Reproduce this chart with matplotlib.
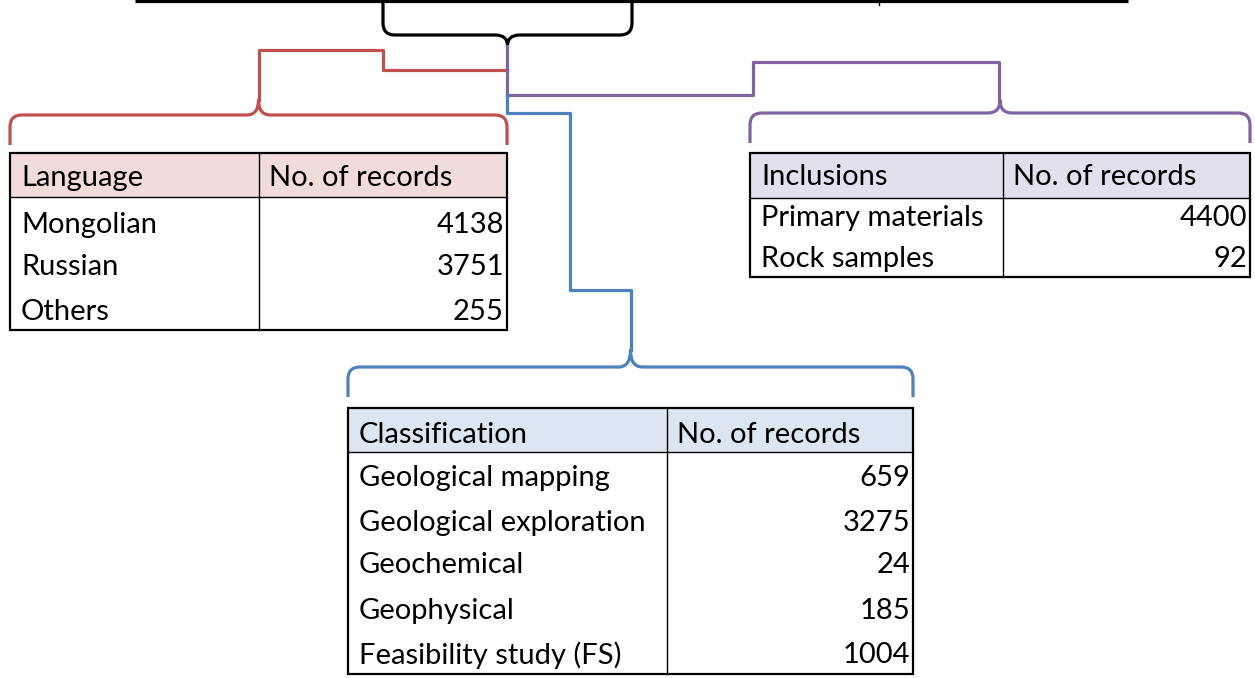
import matplotlib
matplotlib.use('Agg')
import matplotlib.pyplot as plt
from matplotlib.path import Path
from matplotlib.patches import PathPatch, Rectangle

# table contents
lang_labels = ['Mongolian', 'Russian', 'Others']
lang_counts = [4138, 3751, 255]

incl_labels = ['Primary materials', 'Rock samples']
incl_counts = [4400, 92]

class_labels = ['Geological mapping', 'Geological exploration', 'Geochemical',
                'Geophysical', 'Feasibility study (FS)']
class_counts = [659, 3275, 24, 185, 1004]

RED = '#C0504D'
PURPLE = '#8064A2'
BLUE = '#4F81BD'
FONT = 'Lato'
FS = 21

fig = plt.figure(figsize=(12.55, 6.78), dpi=100)
ax = fig.add_axes([0, 0, 1, 1])
ax.set_xlim(0, 1255)
ax.set_ylim(678, 0)
ax.axis('off')


def brace(x0, x1, y_end, y_bar, y_tip, color, r=12):
    """Horizontal curly brace; ends at y_end, bar at y_bar, centre point at y_tip."""
    xc = (x0 + x1) / 2
    s = 1 if y_end < y_bar else -1  # direction from end to bar
    verts = [(x0, y_end), (x0, y_bar - s * r), (x0, y_bar), (x0 + r, y_bar),
             (xc - r, y_bar), (xc, y_bar), (xc, y_tip),
             (xc, y_bar), (xc + r, y_bar),
             (x1 - r, y_bar), (x1, y_bar), (x1, y_bar - s * r), (x1, y_end)]
    codes = [Path.MOVETO, Path.LINETO, Path.CURVE3, Path.CURVE3,
             Path.LINETO, Path.CURVE3, Path.CURVE3,
             Path.CURVE3, Path.CURVE3,
             Path.LINETO, Path.CURVE3, Path.CURVE3, Path.LINETO]
    ax.add_patch(PathPatch(Path(verts, codes), fill=False, edgecolor=color,
                           lw=2.3, capstyle='butt', joinstyle='round'))


def draw_table(x0, x1, xsplit, y_top, y_head, y_bot, head, labels, counts, rows_y,
               fill, head_y):
    ax.add_patch(Rectangle((x0, y_top), x1 - x0, y_head - y_top, facecolor=fill,
                           edgecolor='none'))
    ax.add_patch(Rectangle((x0, y_top), x1 - x0, y_bot - y_top, fill=False,
                           edgecolor='black', lw=1.6))
    ax.plot([x0, x1], [y_head, y_head], color='black', lw=1.0)
    ax.plot([xsplit, xsplit], [y_top, y_bot], color='black', lw=1.0)
    ax.text(x0 + 11, head_y, head, fontsize=FS, family=FONT, va='center')
    ax.text(xsplit + 10, head_y, 'No. of records', fontsize=FS, family=FONT, va='center')
    for lab, cnt, y in zip(labels, counts, rows_y):
        ax.text(x0 + 11, y, lab, fontsize=FS, family=FONT, va='center')
        ax.text(x1 - 3, y, str(cnt), fontsize=FS, family=FONT, va='center', ha='right')


# top line and black brace
ax.plot([135, 1128], [1, 1], color='black', lw=2.3, solid_capstyle='butt')
ax.plot([879, 879], [0, 5], color='black', lw=1.0)
brace(383, 632, 3, 35, 46, 'black')

# red connector + brace
ax.plot([507, 383, 383, 259, 259], [70, 70, 50, 50, 100], color=RED, lw=2.3)
brace(10, 507, 145, 115, 100, RED)

# purple trunk, connector + brace
ax.plot([507, 507], [46, 95], color=PURPLE, lw=2.3)
ax.plot([507, 753, 753, 999, 999], [95, 95, 62, 62, 100], color=PURPLE, lw=2.3)
brace(750, 1250, 143, 113, 100, PURPLE)

# blue connector + brace
ax.plot([507, 507, 570, 570, 631, 631], [95, 113, 113, 290, 290, 350], color=BLUE, lw=2.3)
brace(348, 913, 397, 367, 350, BLUE)

draw_table(10, 507, 259, 153, 197, 330, 'Language', lang_labels, lang_counts,
           [225, 267, 312], '#F2DCDB', 178)
draw_table(750, 1250, 1003, 153, 198, 277, 'Inclusions', incl_labels, incl_counts,
           [218, 259], '#E4DFEC', 177)
draw_table(348, 913, 667, 408, 452, 674, 'Classification', class_labels, class_counts,
           [478, 523, 565, 611, 655], '#DCE6F1', 435)

fig.savefig('out.png', dpi=100)
